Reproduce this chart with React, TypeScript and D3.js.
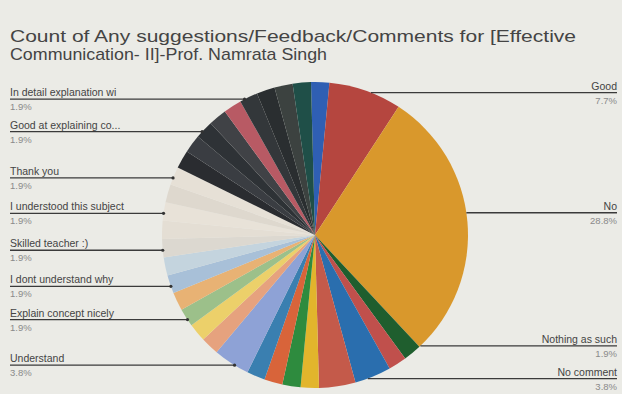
import React from "react";
import * as d3 from "d3";

// ---- data (52 responses in total) ----
const categories = [
  "Very good", "Good", "No", "Nothing as such", "Nice", "No comment", "Nothing",
  "Good teaching", "Excellent", "Well taught", "Helpful", "Understand",
  "Other response A", "Other response B", "Explain concept nicely", "Other response C",
  "I dont understand why", "Other response D", "Skilled teacher :)", "Other response E",
  "I understood this subject", "Other response F", "Thank you", "Other response G",
  "Other response H", "Good at explaining co...", "Other response I", "Other response J",
  "In detail explanation wi", "Other response K", "Other response L", "Other response M",
];
const counts = [
  1, 4, 15, 1, 1, 2, 2,
  1, 1, 1, 1, 2,
  1, 1, 1, 1,
  1, 1, 1, 1,
  1, 1, 1, 1,
  1, 1, 1, 1,
  1, 1, 1, 1,
];
const shownLabels = [
  "Good", "No", "Nothing as such", "No comment", "Understand", "Explain concept nicely",
  "I dont understand why", "Skilled teacher :)", "I understood this subject", "Thank you",
  "Good at explaining co...", "In detail explanation wi",
];
const titleLines = [
  "Count of Any suggestions/Feedback/Comments for [Effective",
  "Communication- II]-Prof. Namrata Singh",
];

// ---- styling ----
const sliceColors = [
  "#2f5fb3", "#b5463f", "#d9982c", "#1f5e2e", "#c0504c", "#2a6eae", "#c45a4a",
  "#e2b52c", "#2e8b3e", "#d8643a", "#3a7fb0", "#8ea2d6",
  "#e6a27e", "#ecd06a", "#9cc08a", "#e8b274",
  "#a8c0d8", "#c4d4de", "#dcd8d0", "#e4ded4",
  "#e8e2d8", "#ded8ce", "#e6e0d6", "#2a2c30",
  "#3a3d42", "#2e3236", "#404246", "#b85a64",
  "#33373a", "#2a2e30", "#3c4240", "#1f4f48",
];
const labelNudge: Record<string, number> = { "No": -11, "Nothing as such": -9 };

const W = 622, H = 394, cx = 315, cy = 235, R = 153;
const FONT = "'Liberation Sans', Arial, sans-serif";

export default function App() {
  const total = d3.sum(counts);
  const off = (-1.5 * Math.PI) / 180;
  const pie = d3.pie<number>().sort(null).value((d) => d).startAngle(off).endAngle(2 * Math.PI + off);
  const arcs = pie(counts);
  const arc = d3.arc<d3.PieArcDatum<number>>().innerRadius(0).outerRadius(R);
  const pct = d3.format(".1%");

  const labels = arcs
    .map((a, i) => ({ a, name: categories[i] }))
    .filter((d) => shownLabels.includes(d.name))
    .map(({ a, name }) => {
      const mid = (a.startAngle + a.endAngle) / 2;
      const right = Math.sin(mid) > 0;
      const rimY = cy - R * Math.cos(mid);
      const ly = rimY + 2 + (labelNudge[name] ?? 0);
      const dy = Math.min(Math.abs(ly - cy), R);
      const dx = Math.sqrt(R * R - dy * dy);
      const rimX = right ? cx + dx : cx - dx;
      return { name, right, ly, rimX, value: a.data };
    });

  return (
    <svg width={W} height={H} style={{ position: "absolute", left: 0, top: 0 }}>
      <rect width={W} height={H} fill="#ebebe6" />
      {titleLines.map((t, i) => (
        <text
          key={i}
          x={10}
          y={42 + i * 18}
          fontFamily={FONT}
          fontSize={17}
          fill="#444"
          textLength={i === 0 ? 566 : 317}
          lengthAdjust="spacingAndGlyphs"
        >
          {t}
        </text>
      ))}
      <g transform={`translate(${cx},${cy})`}>
        {arcs.map((a, i) => (
          <path key={i} d={arc(a) || ""} fill={sliceColors[i]} />
        ))}
      </g>
      {labels.map((l, i) => (
        <g key={i} fontFamily={FONT}>
          <line
            x1={l.right ? l.rimX : 10}
            x2={l.right ? 617 : l.rimX}
            y1={l.ly}
            y2={l.ly}
            stroke="#3a3a3a"
            strokeWidth={1.3}
          />
          {!l.right && <circle cx={l.rimX} cy={l.ly} r={1.6} fill="#333" />}
          <text
            x={l.right ? 617 : 10}
            y={l.ly - 3}
            textAnchor={l.right ? "end" : "start"}
            fontSize={10.5}
            fill="#444"
          >
            {l.name}
          </text>
          <text
            x={l.right ? 617 : 10}
            y={l.ly + 11}
            textAnchor={l.right ? "end" : "start"}
            fontSize={9.5}
            fill="#8a8a8a"
          >
            {pct(l.value / total)}
          </text>
        </g>
      ))}
    </svg>
  );
}
